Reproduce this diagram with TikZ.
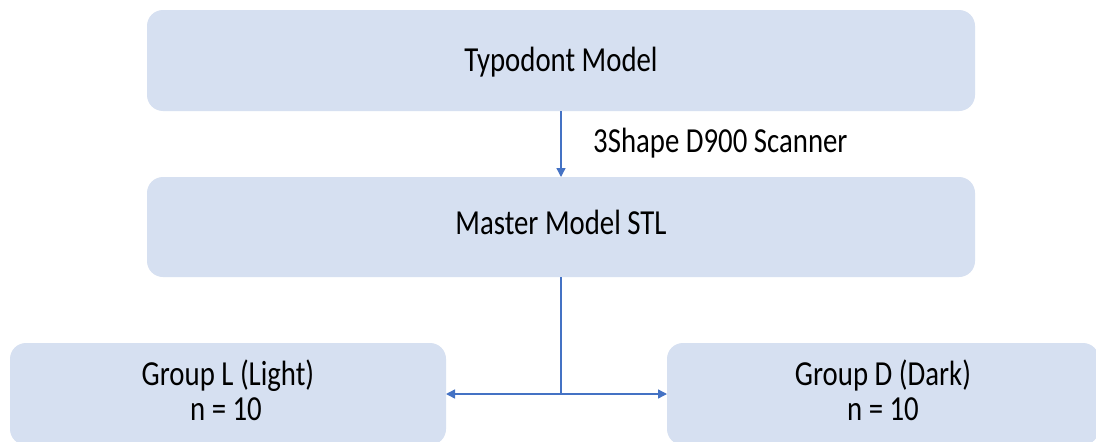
\documentclass[tikz,border=0pt]{standalone}
\usepackage{fontspec}
\setmainfont{Carlito}
\usetikzlibrary{arrows.meta}
\definecolor{boxfill}{HTML}{D6E0F1}
\definecolor{linkblue}{HTML}{4472C4}
\newcommand{\stx}[1]{\scalebox{1}[1.22]{#1}}
\tikzset{
  boxnode/.style={fill=boxfill, rounded corners=16pt, inner sep=0pt, outer sep=0pt},
  txt/.style={anchor=base, inner sep=0pt, font=\fontsize{28.8}{28.8}\selectfont},
  link/.style={draw=linkblue, line width=1.4pt},
  tip/.style={-{Triangle[length=9pt,width=9pt]}}
}
\begin{document}
\begin{tikzpicture}[x=1pt,y=-1pt]
\clip (0,0) rectangle (1096,442);
\fill[white] (0,0) rectangle (1096,442);
\node[boxnode, minimum width=828pt, minimum height=101pt] (top) at (561,60.5) {};
\node[boxnode, minimum width=828pt, minimum height=100pt] (mid) at (561,227) {};
\node[boxnode, minimum width=436pt, minimum height=102pt] (left) at (228,394) {};
\node[boxnode, minimum width=432pt, minimum height=102pt] (right) at (883,394) {};
\node[txt] (toptext) at (561,71) {\stx{Typodont Model}};
\node[txt] (midtext) at (561,234) {\stx{Master Model STL}};
\node[txt] (lefttext1) at (228,385) {\stx{Group L (Light)}};
\node[txt] (lefttext2) at (226,420) {\stx{n = 10}};
\node[txt] (righttext1) at (883,385) {\stx{Group D (Dark)}};
\node[txt] (righttext2) at (883,420) {\stx{n = 10}};
\node[txt, anchor=base west] (scan) at (593,152) {\stx{3Shape D900 Scanner}};
\coordinate (split) at (561,394);
\draw[link, tip] (top.south) -- (mid.north);
\draw[link] (mid.south) -- (split);
\draw[link, tip] (split) -- (left.east |- split);
\draw[link, tip] (split) -- (right.west |- split);
\end{tikzpicture}
\end{document}
